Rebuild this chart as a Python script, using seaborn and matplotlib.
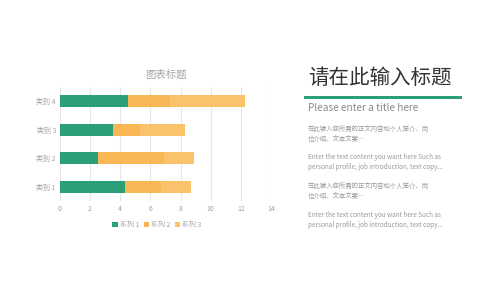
import matplotlib
matplotlib.use("Agg")
import matplotlib.pyplot as plt
import seaborn as sns
import pandas as pd
import numpy as np
from matplotlib.patches import Patch, Rectangle

sns.set_theme(style="white")
plt.rcParams['font.family'] = ['Noto Sans CJK SC', 'DejaVu Sans']

categories = ['类别 1', '类别 2', '类别 3', '类别 4']
series1 = [4.3, 2.5, 3.5, 4.5]
series2 = [2.4, 4.4, 1.8, 2.8]
series3 = [2.0, 2.0, 3.0, 5.0]
series_names = ['系列 1', '系列 2', '系列 3']
colors = ['#2a9f78', '#f8b654', '#fac36b']
xticks = [0, 2, 4, 6, 8, 10, 12, 14]

c1 = np.array(series1)
c2 = c1 + np.array(series2)
c3 = c2 + np.array(series3)
df = pd.DataFrame({'cat': categories, 'c1': c1, 'c2': c2, 'c3': c3})

fig = plt.figure(figsize=(5, 2.81), dpi=100)
ax = fig.add_axes([0.12, 0.284, 0.422, 0.408])
order = categories[::-1]
for col, color in zip(['c3', 'c2', 'c1'], colors[::-1]):
    sns.barplot(data=df, x=col, y='cat', order=order, color=color,
                width=0.42, ax=ax, saturation=1, linewidth=0, zorder=3)

ax.set_xlim(0, 14)
ax.set_xticks(xticks)
ax.set_xticklabels([str(t) for t in xticks])
ax.set_xlabel('')
ax.set_ylabel('')
ax.grid(axis='x', color='#e6e6e6', linewidth=0.8, zorder=0)
ax.set_axisbelow(True)
for s in ax.spines.values():
    s.set_visible(False)
ax.tick_params(axis='both', length=0, labelsize=5, colors='#a0a0a0', pad=3)

ax.set_title('图表标题', fontsize=7.5, color='#a5a5a5', pad=6)

handles = [Patch(facecolor=c, edgecolor='none') for c in colors]
fig.legend(handles, series_names, loc='center', bbox_to_anchor=(157 / 500, 1 - 225 / 281),
           ncol=3, frameon=False, fontsize=5, labelcolor='#a5a5a5',
           handlelength=0.8, handleheight=0.8, handletextpad=0.3, columnspacing=0.6)

# Right-hand text panel
fig.text(308 / 500, 1 - 78 / 281, '请在此输入标题', fontsize=14.8, color='#333333',
         va='center', ha='left')
fig.add_artist(Rectangle((304 / 500, 1 - 98.5 / 281), (462 - 304) / 500, 3 / 281,
                         transform=fig.transFigure, facecolor='#2a9f78',
                         edgecolor='none'))
fig.text(308 / 500, 1 - 108.5 / 281, 'Please enter a title here', fontsize=7.3,
         color='#8a8a8a', va='center', ha='left')

cn = '在此输入您所需的正文内容如个人简介、岗\n位介绍、文本文案…'
en = 'Enter the text content you want here Such as\npersonal profile, job introduction, text copy...'
for y, txt in [(134, cn), (162, en), (191, cn), (220, en)]:
    fig.text(308 / 500, 1 - y / 281, txt, fontsize=4.6, color='#9a9a9a',
             va='center', ha='left', linespacing=1.45)

fig.savefig('out.png', dpi=100)
